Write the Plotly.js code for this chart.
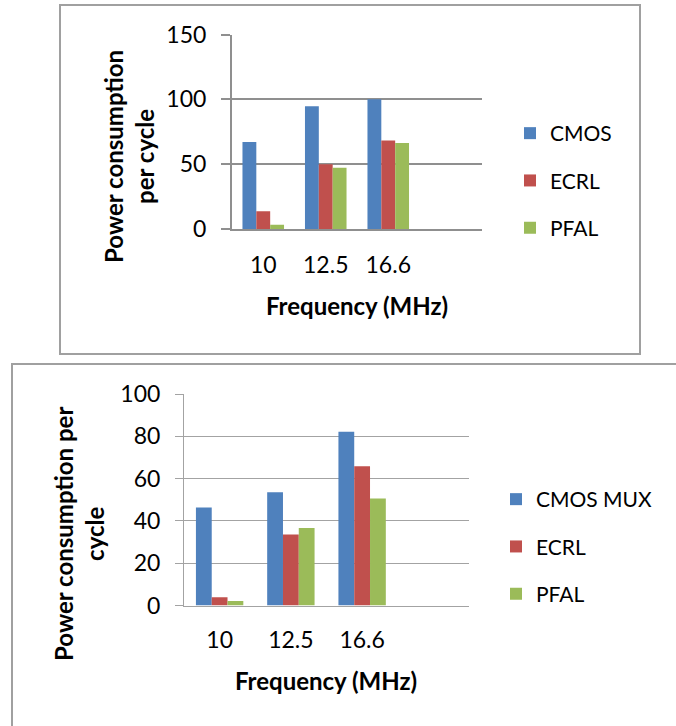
<!DOCTYPE html>
<html>
<head>
<meta charset="utf-8">
<script src="https://cdn.plot.ly/plotly-3.0.1.min.js"></script>
<style>
html,body{margin:0;padding:0;background:#fff;}
#chart{width:676px;height:726px;}
</style>
</head>
<body>
<div id="chart"></div>
<script>
// ---- data ----
const freqLabels = ['10', '12.5', '16.6'];
const boundaryTicks = [-0.5, 0.5, 1.5, 2.5, 3.5];

const topNames = ['CMOS', 'ECRL', 'PFAL'];
const topCMOS = [67, 94.7, 100];
const topECRL = [13.7, 50, 68.2];
const topPFAL = [3.2, 47.3, 66.3];
const topYTicks = [0, 50, 100, 150];

const botNames = ['CMOS MUX', 'ECRL', 'PFAL'];
const botCMOS = [46.3, 53.6, 82.2];
const botECRL = [3.9, 33.6, 65.8];
const botPFAL = [2.1, 36.6, 50.6];
const botYTicks = [0, 20, 40, 60, 80, 100];

const yTitle1 = 'Power consumption<br>per cycle';
const yTitle2 = 'Power consumption per<br>cycle';
const xTitle = 'Frequency (MHz)';

const colors = ['#4F81BD', '#C0504D', '#9BBB59'];

// ---- geometry helpers (pixels -> paper) ----
const W = 676, H = 726;
const px = x => x / W;
const py = y => 1 - y / H;
const FONT = 'Lato, "Open Sans", "Liberation Sans", sans-serif';

const topSeries = [topCMOS, topECRL, topPFAL];
const botSeries = [botCMOS, botECRL, botPFAL];

const traces = [];
topSeries.forEach((vals, i) => traces.push({
  type: 'bar', x: freqLabels, y: vals, name: topNames[i],
  marker: {color: colors[i]}, xaxis: 'x', yaxis: 'y',
  legend: 'legend', legendgroup: 't' + i, hoverinfo: 'skip'
}));
botSeries.forEach((vals, i) => traces.push({
  type: 'bar', x: freqLabels, y: vals, name: botNames[i],
  marker: {color: colors[i]}, xaxis: 'x2', yaxis: 'y2',
  legend: 'legend2', legendgroup: 'b' + i, hoverinfo: 'skip'
}));

const gridTop = '#8f8f8f';
const gridBot = '#a3a3a3';

const catAxis = (dom, anchor, lc, lw) => ({
  type: 'category', domain: dom, anchor: anchor, range: [-0.5, 3.5],
  ticks: '', showgrid: false, zeroline: false,
  showline: true, linecolor: lc, linewidth: lw,
  tickfont: {size: 23, color: '#000'}, ticklabelstandoff: 14, fixedrange: true
});
const tickAxis = (over, anchor, lc, lw) => ({
  type: 'linear', overlaying: over, anchor: anchor, range: [-0.5, 3.5],
  tickmode: 'array', tickvals: boundaryTicks, ticks: 'outside', ticklen: 8,
  tickwidth: lw, tickcolor: lc, showticklabels: false, showgrid: false,
  zeroline: false, showline: false, fixedrange: true
});
const valAxis = (dom, anchor, rng, tv, lc, lw, tl) => ({
  domain: dom, anchor: anchor, range: rng, tickmode: 'array', tickvals: tv,
  ticks: 'outside', ticklen: tl, tickwidth: lw, tickcolor: lc,
  showgrid: true, gridcolor: lc, gridwidth: lw, zeroline: false,
  showline: true, linecolor: lc, linewidth: lw,
  tickfont: {size: 23, color: '#000'}, ticklabelstandoff: 10, fixedrange: true
});

const layout = {
  width: W, height: H,
  margin: {l: 0, r: 0, t: 0, b: 0, pad: 0},
  paper_bgcolor: '#fff', plot_bgcolor: 'rgba(0,0,0,0)',
  font: {family: FONT, size: 21, color: '#000'},
  barmode: 'group', bargap: 0.335, bargroupgap: 0,
  showlegend: true,
  xaxis: catAxis([px(232), px(482)], 'y', gridTop, 2),
  xaxis3: tickAxis('x', 'y', gridTop, 2),
  yaxis: valAxis([py(229), py(34.5)], 'x', [0, 150], topYTicks, gridTop, 2, 9),
  xaxis2: catAxis([px(184), px(469)], 'y2', gridBot, 1),
  xaxis4: tickAxis('x2', 'y2', gridBot, 1),
  yaxis2: valAxis([py(605.5), py(394)], 'x2', [0, 100], botYTicks, gridBot, 1, 8),
  legend: {
    x: px(510), y: py(113), xanchor: 'left', yanchor: 'top',
    traceorder: 'grouped', tracegroupgap: 17, bgcolor: 'rgba(0,0,0,0)',
    font: {size: 21, family: FONT, color: '#000'}
  },
  legend2: {
    x: px(496), y: py(479), xanchor: 'left', yanchor: 'top',
    traceorder: 'grouped', tracegroupgap: 17, bgcolor: 'rgba(0,0,0,0)',
    font: {size: 21, family: FONT, color: '#000'}
  },
  shapes: [
    {type: 'rect', xref: 'paper', yref: 'paper', x0: px(60), x1: px(640), y0: py(354), y1: py(5),
     line: {color: '#a0a0a0', width: 2}, fillcolor: 'rgba(0,0,0,0)', layer: 'below'},
    {type: 'rect', xref: 'paper', yref: 'paper', x0: px(12), x1: px(690), y0: py(740), y1: py(364),
     line: {color: '#a0a0a0', width: 2}, fillcolor: 'rgba(0,0,0,0)', layer: 'below'}
  ],
  annotations: [
    {text: yTitle1, xref: 'paper', yref: 'paper', x: px(129), y: py(157), textangle: -90,
     showarrow: false, xanchor: 'center', yanchor: 'middle',
     font: {size: 24, family: FONT, weight: 'bold', color: '#000'}},
    {text: xTitle, xref: 'paper', yref: 'paper', x: px(357), y: py(306),
     showarrow: false, xanchor: 'center', yanchor: 'middle',
     font: {size: 24, family: FONT, weight: 'bold', color: '#000'}},
    {text: yTitle2, xref: 'paper', yref: 'paper', x: px(79), y: py(534), textangle: -90,
     showarrow: false, xanchor: 'center', yanchor: 'middle',
     font: {size: 24, family: FONT, weight: 'bold', color: '#000'}},
    {text: xTitle, xref: 'paper', yref: 'paper', x: px(326), y: py(680),
     showarrow: false, xanchor: 'center', yanchor: 'middle',
     font: {size: 24, family: FONT, weight: 'bold', color: '#000'}}
  ]
};

Plotly.newPlot('chart', traces, layout, {staticPlot: true, displayModeBar: false});
</script>
</body>
</html>
